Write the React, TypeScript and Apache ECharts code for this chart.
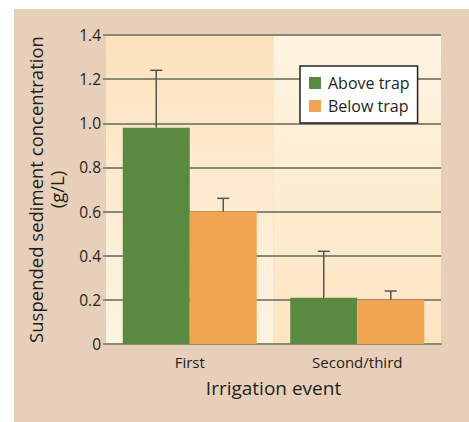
import React, { useEffect, useRef } from "react";
import * as echarts from "echarts";

const categories = ["First", "Second/third"];
const seriesNames = ["Above trap", "Below trap"];
const aboveMean = [0.98, 0.21];
const aboveErrTop = [1.24, 0.42];
const belowMean = [0.6, 0.2];
const belowErrTop = [0.66, 0.24];
const yTicks = [0, 0.2, 0.4, 0.6, 0.8, 1.0, 1.2, 1.4];

const TEXT = "#231f20";
const GRID = "#858b75";
const ERR = "#55554c";
const FONT = "'Open Sans', sans-serif";

export default function App() {
  const ref = useRef<HTMLDivElement>(null);
  useEffect(() => {
    if (!ref.current) return;
    const chart = echarts.init(ref.current, undefined, { renderer: "svg" });
    const errSeries = (name: string, means: number[], tops: number[], offset: number) => ({
      type: "custom",
      name,
      z: 5,
      data: means.map((m, i) => [i, m, tops[i]]),
      encode: { x: 0, y: 2 },
      renderItem: (_p: any, api: any) => {
        const cat = api.value(0);
        const base = api.coord([cat, api.value(1)]);
        const top = api.coord([cat, api.value(2)]);
        const band = api.size([1, 0])[0];
        const x = base[0] + offset * band;
        const st = { stroke: ERR, lineWidth: 1.5 };
        return {
          type: "group",
          children: [
            { type: "line", shape: { x1: x, y1: base[1], x2: x, y2: top[1] }, style: st },
            { type: "line", shape: { x1: x - 6, y1: top[1], x2: x + 6, y2: top[1] }, style: st },
          ],
        };
      },
    });
    chart.setOption({
      animation: false,
      backgroundColor: "#e8cfba",
      textStyle: { fontFamily: FONT, color: TEXT },
      grid: { left: 92, right: 28, top: 26, bottom: 78 },
      legend: {
        data: seriesNames,
        orient: "vertical",
        left: 286,
        top: 57,
        backgroundColor: "#ffffff",
        borderColor: TEXT,
        borderWidth: 1.5,
        padding: [9, 8, 9, 9],
        itemGap: 7,
        itemWidth: 12,
        itemHeight: 12,
        icon: "rect",
        textStyle: { fontSize: 16, color: TEXT, fontFamily: FONT, padding: [0, 0, 0, 2] },
      },
      xAxis: {
        type: "category",
        data: categories,
        z: 0,
        name: "Irrigation event",
        nameLocation: "middle",
        nameGap: 34,
        nameTextStyle: { fontSize: 19, color: TEXT, fontFamily: FONT },
        axisLine: { lineStyle: { color: GRID, width: 2 } },
        axisTick: { show: false },
        axisLabel: { fontSize: 15, color: TEXT, margin: 10, fontFamily: FONT },
        splitArea: {
          show: true,
          areaStyle: {
            color: [
              {
                type: "linear", x: 0, y: 0, x2: 0, y2: 1,
                colorStops: [
                  { offset: 0, color: "#fde2bd" },
                  { offset: 1, color: "#fef4e2" },
                ],
              },
              {
                type: "linear", x: 0, y: 0, x2: 0, y2: 1,
                colorStops: [
                  { offset: 0, color: "#fff5e2" },
                  { offset: 1, color: "#fde4c1" },
                ],
              },
            ],
          },
        },
      },
      yAxis: {
        type: "value",
        z: 1,
        min: yTicks[0],
        max: yTicks[yTicks.length - 1],
        interval: 0.2,
        name: "Suspended sediment concentration\n(g/L)",
        nameLocation: "middle",
        nameGap: 39,
        nameTextStyle: { fontSize: 18.5, color: TEXT, fontFamily: FONT, lineHeight: 21, align: "center" },
        axisLine: { show: false },
        axisTick: { show: true, length: 3, lineStyle: { color: GRID, width: 2 } },
        axisLabel: {
          fontSize: 15.5,
          color: TEXT,
          margin: 5,
          fontFamily: FONT,
          formatter: (v: number) => (v === 0 ? "0" : v.toFixed(1)),
        },
        splitLine: { lineStyle: { color: GRID, width: 2 } },
      },
      series: [
        {
          type: "bar",
          name: seriesNames[0],
          data: aboveMean,
          itemStyle: { color: "#5a8a3f" },
          barGap: "0%",
          barCategoryGap: "20%",
          z: 3,
        },
        {
          type: "bar",
          name: seriesNames[1],
          data: belowMean,
          itemStyle: { color: "#f1a550" },
          barGap: "0%",
          barCategoryGap: "20%",
          z: 3,
        },
        errSeries("errAbove", aboveMean, aboveErrTop, -0.2),
        errSeries("errBelow", belowMean, belowErrTop, 0.2),
      ],
    });
    return () => chart.dispose();
  }, []);
  return (
    <div style={{ position: "absolute", left: 0, top: 0, width: 469, height: 422, background: "#ffffff" }}>
      <div ref={ref} style={{ position: "absolute", left: 14, top: 9, width: 455, height: 413 }} />
    </div>
  );
}
